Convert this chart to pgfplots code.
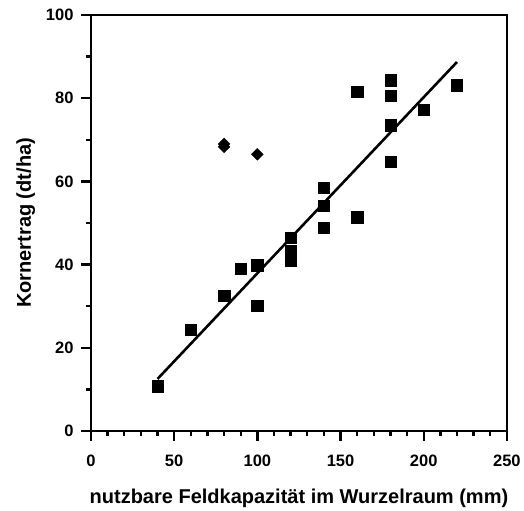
\documentclass[border=0pt]{standalone}
\usepackage{fontspec}
\setmainfont{Liberation Sans}
\usepackage{pgfplots}
\pgfplotsset{compat=1.18}

\begin{document}
\begin{tikzpicture}
\begin{axis}[
    name=ax,
    scale only axis,
    width=416pt, height=416pt,
    xmin=0, xmax=250,
    ymin=0, ymax=100,
    xtick={0,50,...,250},
    ytick={0,20,...,100},
    minor x tick num=4,
    minor y tick num=1,
    tick align=outside,
    major tick length=10pt,
    minor tick length=5pt,
    axis line style={line width=2.6pt},
    every tick/.style={line width=2.4pt, black},
    xtick pos=bottom, ytick pos=left,
    /pgf/number format/assume math mode=true,
    tick label style={font=\fontsize{16.5}{19}\selectfont\bfseries},
    label style={font=\fontsize{20}{24}\selectfont\bfseries},
    xticklabel style={yshift=-11pt},
    yticklabel style={xshift=-4pt},
    xlabel={nutzbare Feldkapazität im Wurzelraum (mm)},
    ylabel={Kornertrag (dt/ha)},
    xlabel style={yshift=-15pt},
    ylabel style={yshift=4pt},
    clip=false,
]
% Messwerte (Quadrate)
\addplot[only marks, mark=square*, mark size=5.7pt, black] coordinates {
    (40,10.8) (60,24.3) (80,32.5) (90,39.0) (100,39.8) (100,30.1)
    (120,46.5) (120,43.4) (120,41.0)
    (140,58.5) (140,54.2) (140,48.9)
    (160,51.4) (160,81.5)
    (180,84.3) (180,80.6) (180,73.5) (180,64.8)
    (200,77.3) (220,83.1)
};
% Ausreisser (Rauten)
\addplot[only marks, mark=square*, mark size=4.2pt, mark options={rotate=45}, black] coordinates {
    (80,68.3) (80,69.0) (100,66.5)
};
% Regressionsgerade
\addplot[black, line width=2.6pt] coordinates {(40,12.5) (220,88.7)};
\end{axis}
\path (ax.south west) ++(-91pt,-74pt);
\path (ax.north east) ++(17pt,15pt);
\end{tikzpicture}
\end{document}
